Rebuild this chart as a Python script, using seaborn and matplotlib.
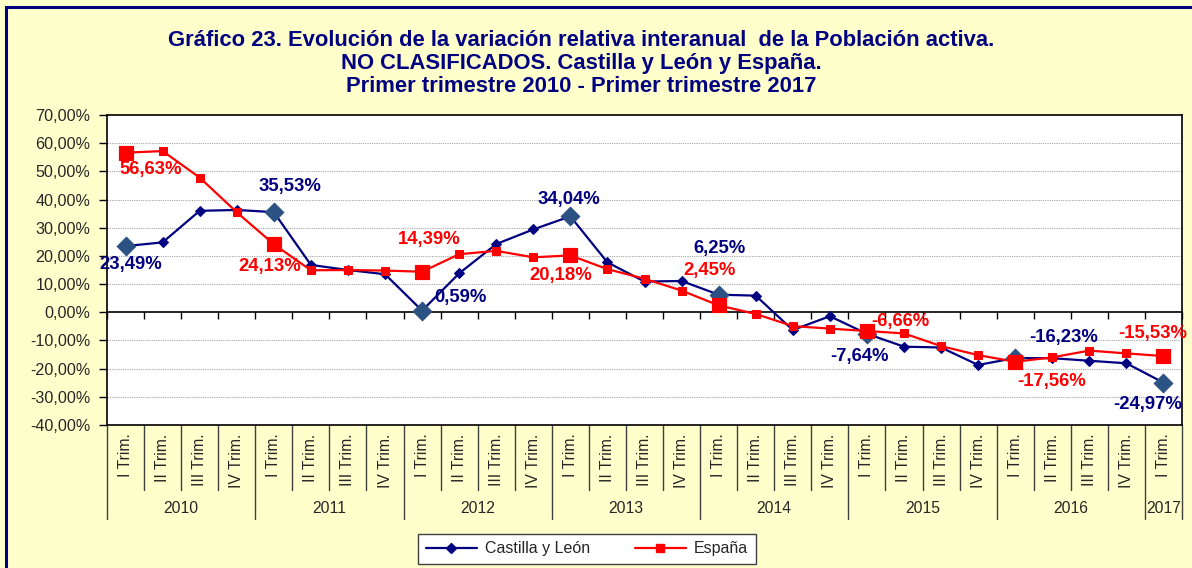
import numpy as np
import pandas as pd
import seaborn as sns
import matplotlib.pyplot as plt
import matplotlib.transforms as mtransforms
from matplotlib.lines import Line2D
from matplotlib.patches import Rectangle

# datos
years = ["2010", "2011", "2012", "2013", "2014", "2015", "2016", "2017"]
quarters = ["I Trim.", "II Trim.", "III Trim.", "IV Trim."]
n_quarters_last = 1

castilla = [23.49, 24.8, 36.0, 36.3, 35.53, 16.8, 15.0, 13.5,
            0.59, 13.8, 24.2, 29.4, 34.04, 17.7, 10.9, 11.1,
            6.25, 5.9, -6.3, -1.4, -7.64, -12.2, -12.5, -18.7,
            -16.23, -16.3, -17.2, -18.1, -24.97]
espana = [56.63, 57.2, 47.8, 35.5, 24.13, 14.9, 15.0, 14.8,
          14.39, 20.6, 21.8, 19.5, 20.18, 15.3, 11.9, 7.7,
          2.45, -0.6, -4.9, -5.8, -6.66, -7.5, -12.0, -15.2,
          -17.56, -16.0, -13.6, -14.6, -15.53]

title_lines = ["Gráfico 23. Evolución de la variación relativa interanual  de la Población activa.",
               "NO CLASIFICADOS. Castilla y León y España.",
               "Primer trimestre 2010 - Primer trimestre 2017"]

cat_labels = []
cat_years = []
for y in years:
    qs = quarters if y != years[-1] else quarters[:n_quarters_last]
    for q in qs:
        cat_labels.append(q)
        cat_years.append(y)

df = pd.DataFrame({
    "idx": np.arange(len(cat_labels)),
    "trim": cat_labels,
    "anio": cat_years,
    "Castilla y León": castilla,
    "España": espana,
})
first_q = df[df["trim"] == "I Trim."]

# offsets (pixels) para las etiquetas de datos
cyl_offsets = [(5, -18), (16, 26), (38, 13), (-1, 17), (1, 46), (-7, -23), (48, 21), (-16, -22)]
esp_offsets = [(25, -17), (-4, -22), (7, 32), (-10, -20), (-9, 35), (33, 10), (36, -20), (-11, 23)]

NAVY = "#000080"
RED = "#FF0000"
BIG_BLUE = "#2B5283"
BG = "#FFFFCC"

sns.set_style("white")
plt.rcParams["font.family"] = ["Liberation Sans", "DejaVu Sans"]

fig = plt.figure(figsize=(11.92, 5.68), dpi=100, facecolor=BG)
ax = fig.add_axes([107 / 1192, 1 - 425 / 568, 1075 / 1192, 310 / 568])
ax.set_facecolor("white")

# lineas
sns.lineplot(data=df, x="idx", y="Castilla y León", ax=ax, color=NAVY, lw=1.6,
             marker="D", markersize=5, markeredgecolor=NAVY, zorder=3)
sns.lineplot(data=df, x="idx", y="España", ax=ax, color=RED, lw=1.6,
             marker="s", markersize=6, markeredgecolor=RED, zorder=4)
# marcadores grandes en el primer trimestre
sns.scatterplot(data=first_q, x="idx", y="Castilla y León", ax=ax, marker="D", s=90,
                color=BIG_BLUE, edgecolor=BIG_BLUE, zorder=5, legend=False)
sns.scatterplot(data=first_q, x="idx", y="España", ax=ax, marker="s", s=110,
                color=RED, edgecolor=RED, zorder=6, legend=False)

def fmt(v):
    return f"{v:.2f}%".replace(".", ",")

for (i, v), off in zip(first_q[["idx", "Castilla y León"]].values, cyl_offsets):
    ax.annotate(fmt(v), (i, v), xytext=off, textcoords="offset pixels", ha="center", va="center",
                fontsize=13.3, fontweight="bold", color=NAVY, zorder=8, annotation_clip=False)
for (i, v), off in zip(first_q[["idx", "España"]].values, esp_offsets):
    ax.annotate(fmt(v), (i, v), xytext=off, textcoords="offset pixels", ha="center", va="center",
                fontsize=13.3, fontweight="bold", color=RED, zorder=8, annotation_clip=False)

# ejes
n = len(cat_labels)
ax.set_xlim(-0.5, n - 0.5)
ax.set_ylim(-40, 70)
yt = np.arange(-40, 71, 10)
ax.set_yticks(yt)
ax.set_yticklabels([f"{t:.2f}%".replace(".", ",") for t in yt], fontsize=11.6)
ax.tick_params(axis="y", direction="out", length=6, width=1, color="black", left=True, pad=6)
for t in yt:
    if t not in (0, -40, 70):
        ax.axhline(t, color="#A6A6A6", lw=0.8, ls=(0, (1, 1)), zorder=1)

ax.spines["bottom"].set_position(("data", 0))
ax.set_xticks(np.arange(-0.5, n, 1))
ax.set_xticklabels([])
ax.tick_params(axis="x", direction="out", length=5, width=1, color="black", bottom=True)
for s in ax.spines.values():
    s.set_color("black")
    s.set_linewidth(1.2)
ax.plot([0, 1], [0, 0], transform=ax.transAxes, color="black", lw=1.2, clip_on=False, zorder=7)
ax.set_xlabel("")
ax.set_ylabel("")

# etiquetas de categorias (dos niveles)
trans = mtransforms.blended_transform_factory(ax.transData, ax.transAxes)
for i, lab in enumerate(cat_labels):
    ax.text(i, -0.028, lab, rotation=90, ha="center", va="top", fontsize=11.3, transform=trans)
for i in range(n + 1):
    is_year_edge = i == n or cat_labels[i] == "I Trim."
    y0 = -0.303 if is_year_edge else -0.21
    ax.plot([i - 0.5, i - 0.5], [0, y0], transform=trans, color="#404040", lw=1, clip_on=False)
for y in years:
    pos = df.loc[df["anio"] == y, "idx"]
    ax.text((pos.min() + pos.max()) / 2, -0.27, y, ha="center", va="center", fontsize=11.3,
            transform=trans)

# titulo
for k, line in enumerate(title_lines):
    fig.text(581 / 1192, 1 - (40 + 23.5 * k) / 568, line, ha="center", va="center",
             fontsize=15.8, fontweight="bold", color=NAVY)

# leyenda
handles = [Line2D([], [], color=NAVY, lw=1.6, marker="D", markersize=5),
           Line2D([], [], color=RED, lw=1.6, marker="s", markersize=6)]
leg = fig.legend(handles, ["Castilla y León", "España"], loc="center", ncol=2,
                 bbox_to_anchor=(587 / 1192, 1 - 549 / 568), fontsize=11.5, frameon=True,
                 fancybox=False, edgecolor="#404040", framealpha=1, handlelength=3.2,
                 columnspacing=2.8, borderpad=0.5, handletextpad=0.5)
leg.get_frame().set_linewidth(1)

# marco de la figura
fig.patches.append(Rectangle((6 / 1192, -0.05), 1.1, 1 - 7 / 568 + 0.05, transform=fig.transFigure,
                             fill=False, edgecolor=NAVY, lw=2.2))

fig.savefig("out.png", dpi=100, facecolor=BG)
